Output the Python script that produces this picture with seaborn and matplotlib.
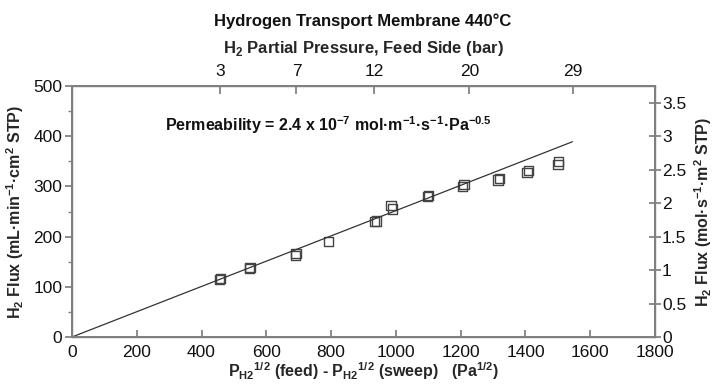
import matplotlib
matplotlib.use("Agg")
import matplotlib.pyplot as plt
from matplotlib import font_manager
from matplotlib.ticker import MultipleLocator, FixedLocator
import seaborn as sns
import pandas as pd

# ---- data ----
x_vals = [455, 458, 548, 550, 690, 692, 792, 935, 940, 985, 990, 1098, 1100,
          1205, 1210, 1315, 1320, 1405, 1410, 1500, 1502]
flux_vals = [114, 117, 137, 139, 163, 167, 190, 230, 231, 262, 255, 280, 282,
             300, 304, 313, 316, 328, 332, 344, 350]
fit_x = [0, 1545]
fit_y = [0, 389]
top_tick_pos = [456, 693, 932, 1227, 1546]
top_tick_labels = ["3", "7", "12", "20", "29"]
right_ticks = [0, 0.5, 1, 1.5, 2, 2.5, 3, 3.5]
right_tick_labels = ["0", "0.5", "1", "1.5", "2", "2.5", "3", "3.5"]

names = {f.name for f in font_manager.fontManager.ttflist}

sns.set_theme(style="white")
fam = ["Liberation Sans Narrow", "Liberation Sans", "DejaVu Sans"]
fam = [f for f in fam if f in names] + ["DejaVu Sans"]
plt.rcParams["font.family"] = fam
plt.rcParams["mathtext.fontset"] = "custom"
plt.rcParams["mathtext.rm"] = fam[0]
plt.rcParams["mathtext.bf"] = fam[0] + ":bold"

df = pd.DataFrame({"x": x_vals, "y": flux_vals})
fit = pd.DataFrame({"x": fit_x, "y": fit_y})

fig = plt.figure(figsize=(7.14, 3.84), dpi=100)
ax = fig.add_axes([0.1008, 0.1224, 0.8166, 0.6536])
spine_col = "#7f7f7f"

sns.lineplot(data=fit, x="x", y="y", ax=ax, color="#333333", lw=0.9)
sns.scatterplot(data=df, x="x", y="y", ax=ax, marker="s", s=45,
                facecolors="none", edgecolor="#444444", linewidth=1.0)

ax.set_xlim(0, 1800)
ax.set_ylim(0, 500)
ax.xaxis.set_major_locator(MultipleLocator(200))
ax.yaxis.set_major_locator(MultipleLocator(100))
ax.yaxis.set_minor_locator(MultipleLocator(50))
tfs = 12.5
lfs = 11.5
ax.tick_params(axis="x", direction="in", length=5, color=spine_col,
               labelsize=tfs, labelcolor="#111111", pad=6)
ax.tick_params(axis="y", which="major", direction="out", length=5,
               color=spine_col, labelsize=tfs, labelcolor="#111111", pad=2)
ax.tick_params(axis="y", which="minor", direction="out", length=3,
               color=spine_col, left=True)
for s in ax.spines.values():
    s.set_color(spine_col)
    s.set_linewidth(1.0)

ax.set_xlabel(r"P$_{\mathbf{H2}}$$^{\mathbf{1/2}}$ (feed) - P$_{\mathbf{H2}}$$^{\mathbf{1/2}}$ (sweep)   (Pa$^{\mathbf{1/2}}$)",
              fontsize=lfs, fontweight="bold", labelpad=0)
ax.set_ylabel(r"H$_{\mathbf{2}}$ Flux (mL·min$^{\mathbf{-1}}$·cm$^{\mathbf{2}}$ STP)",
              fontsize=lfs, fontweight="bold", labelpad=5)

ax.text(287, 422, r"Permeability = 2.4 x 10$^{\mathbf{-7}}$ mol·m$^{\mathbf{-1}}$·s$^{\mathbf{-1}}$·Pa$^{\mathbf{-0.5}}$",
        fontsize=11.5, fontweight="bold", va="center", ha="left", color="#111111")

# right axis
ax2 = ax.twinx()
ax2.set_ylim(0, 3.75)
ax2.yaxis.set_major_locator(FixedLocator(right_ticks))
ax2.set_yticklabels(right_tick_labels)
ax2.tick_params(axis="y", direction="inout", length=8, color=spine_col,
                labelsize=tfs, labelcolor="#111111", pad=1)
ax2.set_ylabel(r"H$_{\mathbf{2}}$ Flux (mol·s$^{\mathbf{-1}}$·m$^{\mathbf{2}}$ STP)",
               fontsize=lfs, fontweight="bold", labelpad=4)
for s in ax2.spines.values():
    s.set_color(spine_col)
ax2.grid(False)

# top axis
ax3 = ax.twiny()
ax3.set_xlim(0, 1800)
ax3.xaxis.set_major_locator(FixedLocator(top_tick_pos))
ax3.set_xticklabels(top_tick_labels)
ax3.tick_params(axis="x", direction="in", length=6, color=spine_col,
                labelsize=tfs, labelcolor="#111111", pad=5)
ax3.set_xlabel(r"H$_{\mathbf{2}}$ Partial Pressure, Feed Side (bar)",
               fontsize=lfs + 0.5, fontweight="bold", labelpad=8)
for s in ax3.spines.values():
    s.set_color(spine_col)
ax3.grid(False)

fig.text(0.5085, 0.945, "Hydrogen Transport Membrane 440°C", ha="center",
         va="center", fontsize=lfs + 0.5, fontweight="bold", color="#111111")

fig.savefig("out.png", dpi=100)
